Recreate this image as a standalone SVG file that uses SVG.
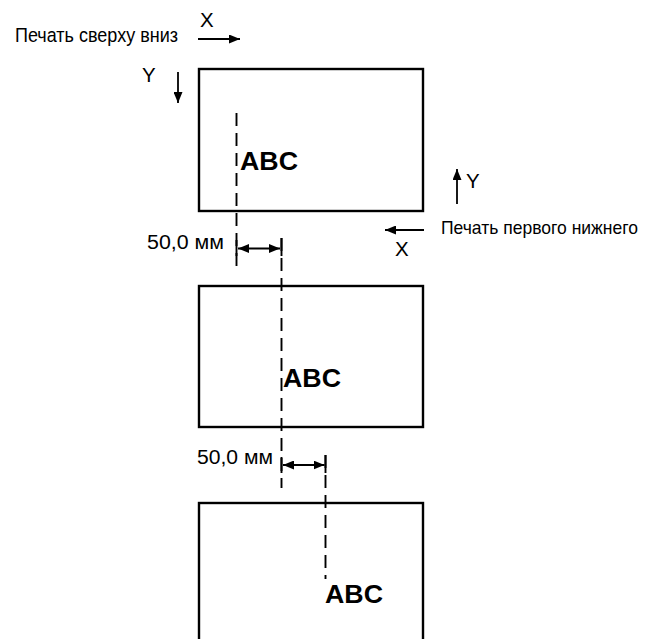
<svg xmlns="http://www.w3.org/2000/svg" width="655" height="639" viewBox="0 0 655 639">
<style>
.box{fill:#fff;stroke:#000;stroke-width:2.4}
.dash{fill:none;stroke:#000;stroke-width:1.9;stroke-dasharray:13,7}
.arr{fill:none;stroke:#000;stroke-width:1.8}
.tick{fill:none;stroke:#000;stroke-width:1.9}
.t{font-family:"Liberation Sans",Arial,sans-serif;font-size:20.5px;fill:#000}
.abc{font-family:"Liberation Sans",Arial,sans-serif;font-size:26px;font-weight:bold;fill:#000}
</style>
<defs>
<marker id="ah" viewBox="0 0 11 9" refX="11" refY="4.5" markerWidth="11" markerHeight="9" markerUnits="userSpaceOnUse" orient="auto-start-reverse">
<path d="M0,0 L11,4.5 L0,9 z" fill="#000"/>
</marker>
</defs>
<rect width="655" height="639" fill="#fff"/>
<g id="box1"><rect class="box" x="199" y="69" width="224" height="142"/><text class="abc" x="240" y="170" textLength="58" lengthAdjust="spacingAndGlyphs">ABC</text></g>
<g id="box2"><rect class="box" x="199" y="286" width="224" height="141"/><text class="abc" x="283" y="387" textLength="58" lengthAdjust="spacingAndGlyphs">ABC</text></g>
<g id="box3"><rect class="box" x="199" y="503" width="224" height="160"/><text class="abc" x="325" y="603" textLength="58" lengthAdjust="spacingAndGlyphs">ABC</text></g>
<g id="labels">
<text class="t" x="15" y="42" textLength="163" lengthAdjust="spacingAndGlyphs">Печать сверху  вниз</text>
<text class="t" x="200" y="27">X</text>
<text class="t" x="142" y="82">Y</text>
<text class="t" x="466" y="188">Y</text>
<text class="t" x="441" y="234" style="font-size:18.5px" textLength="197" lengthAdjust="spacingAndGlyphs">Печать первого нижнего</text>
<text class="t" x="395" y="256">X</text>
<text class="t" x="147" y="249" textLength="77" lengthAdjust="spacingAndGlyphs">50,0 мм</text>
<text class="t" x="197" y="464" textLength="76" lengthAdjust="spacingAndGlyphs">50,0 мм</text>
</g>
<g id="connectors">
<line class="arr" x1="198" y1="39" x2="240" y2="39" marker-end="url(#ah)"/>
<line class="arr" x1="178" y1="72" x2="178" y2="103" marker-end="url(#ah)"/>
<line class="arr" x1="457" y1="204" x2="457" y2="169" marker-end="url(#ah)"/>
<line class="arr" x1="424" y1="230" x2="385" y2="230" marker-end="url(#ah)"/>
<line class="dash" x1="236.5" y1="113" x2="236.5" y2="270"/>
<line class="dash" x1="281.5" y1="238" x2="281.5" y2="488"/>
<line class="dash" x1="325.5" y1="455" x2="325.5" y2="579"/>
<line class="tick" x1="236.5" y1="240" x2="236.5" y2="256"/>
<line class="tick" x1="281.5" y1="238" x2="281.5" y2="256"/>
<line class="arr" x1="238" y1="248.5" x2="280" y2="248.5" marker-start="url(#ah)" marker-end="url(#ah)"/>
<line class="tick" x1="281.5" y1="457" x2="281.5" y2="473"/>
<line class="tick" x1="325.5" y1="455" x2="325.5" y2="473"/>
<line class="arr" x1="283" y1="465" x2="324.5" y2="465" marker-start="url(#ah)" marker-end="url(#ah)"/>
</g>
</svg>
